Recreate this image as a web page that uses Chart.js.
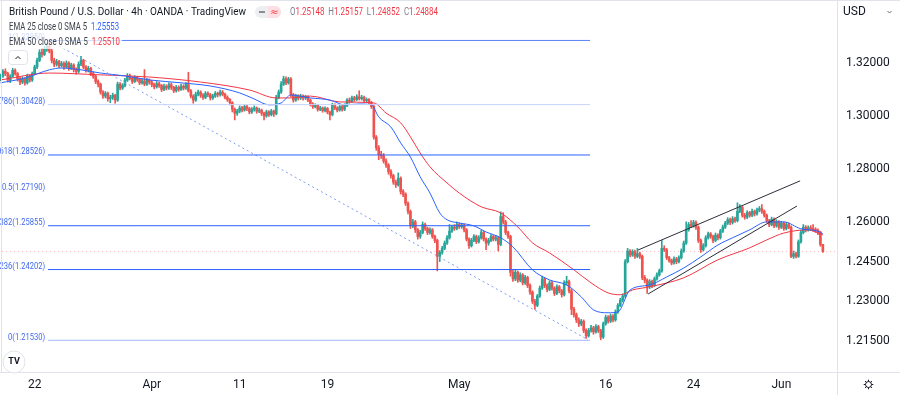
<!DOCTYPE html>
<html>
<head>
<meta charset="utf-8">
<script src="https://cdn.jsdelivr.net/npm/chart.js@4.4.1/dist/chart.umd.min.js"></script>
<style>
  html, body { margin: 0; padding: 0; background: #ffffff; overflow: hidden; }
  canvas { display: block; }
</style>
</head>
<body>
<canvas id="chart" width="900" height="395"></canvas>
<script>
// GBP/USD 4h candles (open = previous close)
const firstOpen = 1.3140;
const closes = [
  1.3150,1.3168,1.3160,1.3135,1.3150,1.3172,1.3160,1.3140,1.3128,1.3140,
  1.3125,1.3150,1.3135,1.3160,1.3185,1.3210,1.3240,1.3232,1.3252,1.3262,
  1.3245,1.3210,1.3195,1.3205,1.3190,1.3198,1.3185,1.3200,1.3180,1.3192,
  1.3175,1.3168,1.3195,1.3210,1.3185,1.3172,1.3180,1.3160,1.3150,1.3130,
  1.3120,1.3090,1.3075,1.3085,1.3065,1.3070,1.3078,1.3060,1.3120,1.3105,
  1.3115,1.3135,1.3150,1.3142,1.3130,1.3145,1.3138,1.3125,1.3132,1.3120,
  1.3135,1.3128,1.3118,1.3110,1.3122,1.3115,1.3100,1.3112,1.3105,1.3118,
  1.3108,1.3095,1.3108,1.3100,1.3112,1.3105,1.3118,1.3095,1.3075,1.3060,
  1.3082,1.3090,1.3078,1.3070,1.3085,1.3080,1.3068,1.3075,1.3085,1.3080,
  1.3090,1.3082,1.3070,1.3062,1.3050,1.3025,1.3010,1.3018,1.3030,1.3022,
  1.3035,1.3028,1.3015,1.3025,1.3030,1.3018,1.3022,1.3010,1.3000,1.3015,
  1.3005,1.3018,1.3008,1.3070,1.3090,1.3120,1.3140,1.3125,1.3140,1.3080,
  1.3060,1.3075,1.3068,1.3075,1.3068,1.3072,1.3060,1.3045,1.3035,1.3040,
  1.3025,1.3030,1.3020,1.3028,1.3015,1.3005,1.3042,1.3030,1.3022,1.3035,
  1.3025,1.3040,1.3060,1.3055,1.3068,1.3062,1.3072,1.3065,1.3070,1.3058,
  1.3062,1.3050,1.3035,1.2920,1.2880,1.2855,1.2850,1.2830,1.2815,1.2790,
  1.2775,1.2750,1.2740,1.2765,1.2715,1.2705,1.2670,1.2640,1.2585,1.2600,
  1.2570,1.2545,1.2560,1.2590,1.2575,1.2560,1.2570,1.2545,1.2530,1.2470,
  1.2485,1.2500,1.2520,1.2540,1.2565,1.2580,1.2575,1.2590,1.2582,1.2588,
  1.2570,1.2535,1.2510,1.2530,1.2545,1.2525,1.2540,1.2560,1.2535,1.2520,
  1.2530,1.2545,1.2535,1.2540,1.2515,1.2620,1.2600,1.2560,1.2545,1.2410,
  1.2385,1.2410,1.2380,1.2400,1.2370,1.2390,1.2360,1.2335,1.2300,1.2285,
  1.2320,1.2350,1.2385,1.2360,1.2345,1.2370,1.2350,1.2330,1.2355,1.2340,
  1.2325,1.2370,1.2375,1.2340,1.2270,1.2250,1.2230,1.2215,1.2225,1.2190,
  1.2170,1.2190,1.2200,1.2185,1.2205,1.2190,1.2165,1.2215,1.2240,1.2225,
  1.2245,1.2230,1.2260,1.2285,1.2305,1.2320,1.2450,1.2490,1.2475,1.2488,
  1.2470,1.2480,1.2470,1.2390,1.2380,1.2355,1.2375,1.2360,1.2385,1.2400,
  1.2415,1.2500,1.2495,1.2465,1.2455,1.2445,1.2460,1.2450,1.2465,1.2490,
  1.2520,1.2570,1.2590,1.2585,1.2598,1.2580,1.2530,1.2495,1.2510,1.2540,
  1.2555,1.2545,1.2530,1.2550,1.2540,1.2565,1.2580,1.2595,1.2608,1.2598,
  1.2612,1.2605,1.2640,1.2655,1.2625,1.2618,1.2635,1.2625,1.2640,1.2630,
  1.2645,1.2650,1.2640,1.2625,1.2605,1.2590,1.2610,1.2585,1.2600,1.2580,
  1.2595,1.2575,1.2590,1.2580,1.2470,1.2480,1.2470,1.2525,1.2560,1.2580,
  1.2570,1.2578,1.2575,1.2570,1.2568,1.2560,1.25148,1.24884
];
const highs = [
  1.3158,1.3175,1.3178,1.3165,1.3156,1.3180,1.3178,1.3164,1.3146,1.3148,
  1.3145,1.3158,1.3155,1.3166,1.3192,1.3218,1.3250,1.3255,1.3262,1.3275,
  1.3285,1.3252,1.3218,1.3214,1.3210,1.3206,1.3204,1.3208,1.3205,1.3199,
  1.3197,1.3182,1.3204,1.3225,1.3214,1.3190,1.3188,1.3184,1.3166,1.3155,
  1.3136,1.3124,1.3096,1.3092,1.3090,1.3078,1.3086,1.3082,1.3128,1.3126,
  1.3122,1.3142,1.3160,1.3158,1.3148,1.3152,1.3150,1.3142,1.3140,1.3175,
  1.3142,1.3140,1.3134,1.3124,1.3130,1.3128,1.3119,1.3120,1.3118,1.3125,
  1.3124,1.3112,1.3115,1.3114,1.3120,1.3118,1.3126,1.3165,1.3100,1.3080,
  1.3090,1.3098,1.3095,1.3084,1.3092,1.3091,1.3085,1.3082,1.3092,1.3090,
  1.3098,1.3096,1.3086,1.3076,1.3066,1.3054,1.3030,1.3025,1.3038,1.3036,
  1.3042,1.3040,1.3032,1.3032,1.3038,1.3034,1.3030,1.3026,1.3015,1.3022,
  1.3020,1.3025,1.3022,1.3078,1.3098,1.3130,1.3150,1.3148,1.3146,1.3145,
  1.3085,1.3082,1.3080,1.3082,1.3080,1.3078,1.3076,1.3064,1.3050,1.3046,
  1.3044,1.3036,1.3034,1.3034,1.3032,1.3018,1.3048,1.3046,1.3035,1.3040,
  1.3040,1.3046,1.3066,1.3068,1.3075,1.3074,1.3080,1.3095,1.3078,1.3075,
  1.3068,1.3066,1.3055,1.3040,1.2926,1.2888,1.2866,1.2858,1.2838,1.2820,
  1.2798,1.2780,1.2758,1.2785,1.2770,1.2722,1.2710,1.2676,1.2645,1.2610,
  1.2606,1.2575,1.2568,1.2600,1.2596,1.2580,1.2578,1.2575,1.2550,1.2535,
  1.2492,1.2508,1.2528,1.2548,1.2590,1.2588,1.2590,1.2600,1.2596,1.2595,
  1.2592,1.2575,1.2540,1.2538,1.2552,1.2550,1.2548,1.2568,1.2565,1.2540,
  1.2538,1.2552,1.2550,1.2548,1.2545,1.2638,1.2635,1.2606,1.2565,1.2550,
  1.2418,1.2418,1.2415,1.2408,1.2405,1.2398,1.2395,1.2366,1.2340,1.2308,
  1.2326,1.2358,1.2395,1.2390,1.2366,1.2378,1.2376,1.2355,1.2362,1.2360,
  1.2345,1.2378,1.2395,1.2380,1.2345,1.2278,1.2256,1.2238,1.2232,1.2230,
  1.2196,1.2198,1.2210,1.2206,1.2212,1.2210,1.2195,1.2222,1.2248,1.2246,
  1.2252,1.2250,1.2268,1.2292,1.2312,1.2328,1.2458,1.2500,1.2496,1.2495,
  1.2494,1.2500,1.2486,1.2475,1.2398,1.2385,1.2382,1.2380,1.2392,1.2408,
  1.2422,1.2530,1.2510,1.2500,1.2470,1.2460,1.2468,1.2466,1.2472,1.2498,
  1.2528,1.2600,1.2598,1.2605,1.2606,1.2604,1.2585,1.2535,1.2518,1.2548,
  1.2562,1.2560,1.2550,1.2558,1.2555,1.2572,1.2588,1.2602,1.2616,1.2614,
  1.2620,1.2618,1.2672,1.2665,1.2660,1.2632,1.2642,1.2640,1.2648,1.2645,
  1.2652,1.2658,1.2665,1.2645,1.2630,1.2610,1.2618,1.2615,1.2608,1.2605,
  1.2602,1.2600,1.2598,1.2596,1.2585,1.2490,1.2486,1.2532,1.2568,1.2590,
  1.2586,1.2585,1.2586,1.2590,1.2578,1.2574,1.2565,1.25157
];
const lows = [
  1.3132,1.3145,1.3152,1.3128,1.3126,1.3146,1.3154,1.3132,1.3118,1.3122,
  1.3116,1.3120,1.3128,1.3130,1.3155,1.3178,1.3205,1.3222,1.3228,1.3244,
  1.3238,1.3200,1.3186,1.3188,1.3182,1.3184,1.3176,1.3180,1.3172,1.3175,
  1.3166,1.3158,1.3162,1.3190,1.3178,1.3165,1.3166,1.3152,1.3142,1.3122,
  1.3110,1.3082,1.3066,1.3068,1.3056,1.3050,1.3062,1.3048,1.3055,1.3098,
  1.3100,1.3110,1.3130,1.3136,1.3122,1.3126,1.3130,1.3118,1.3120,1.3114,
  1.3115,1.3120,1.3110,1.3102,1.3105,1.3108,1.3092,1.3095,1.3098,1.3100,
  1.3100,1.3088,1.3090,1.3093,1.3096,1.3098,1.3100,1.3090,1.3068,1.3048,
  1.3055,1.3076,1.3070,1.3062,1.3065,1.3073,1.3060,1.3062,1.3070,1.3072,
  1.3075,1.3076,1.3064,1.3055,1.3042,1.3015,1.2985,1.3002,1.3012,1.3015,
  1.3018,1.3020,1.3008,1.3010,1.3018,1.3010,1.3012,1.3002,1.2985,1.2995,
  1.2998,1.3000,1.2998,1.3004,1.3065,1.3085,1.3115,1.3118,1.3120,1.3072,
  1.3052,1.3055,1.3060,1.3062,1.3060,1.3062,1.3054,1.3038,1.3028,1.3030,
  1.3018,1.3020,1.3014,1.3015,1.3008,1.2985,1.3000,1.3024,1.3015,1.3018,
  1.3018,1.3020,1.3035,1.3048,1.3050,1.3055,1.3058,1.3060,1.3060,1.3052,
  1.3050,1.3044,1.3028,1.2912,1.2870,1.2835,1.2840,1.2822,1.2806,1.2780,
  1.2765,1.2742,1.2730,1.2735,1.2705,1.2695,1.2662,1.2630,1.2575,1.2578,
  1.2560,1.2535,1.2538,1.2555,1.2568,1.2552,1.2554,1.2538,1.2522,1.2415,
  1.2450,1.2478,1.2495,1.2515,1.2535,1.2560,1.2568,1.2570,1.2575,1.2576,
  1.2562,1.2528,1.2500,1.2505,1.2525,1.2518,1.2520,1.2535,1.2528,1.2495,
  1.2512,1.2525,1.2528,1.2528,1.2490,1.2510,1.2592,1.2552,1.2538,1.2395,
  1.2375,1.2378,1.2372,1.2374,1.2362,1.2364,1.2352,1.2326,1.2292,1.2270,
  1.2280,1.2315,1.2345,1.2352,1.2336,1.2340,1.2342,1.2322,1.2325,1.2332,
  1.2316,1.2320,1.2362,1.2332,1.2250,1.2240,1.2220,1.2205,1.2208,1.2182,
  1.2160,1.2165,1.2184,1.2176,1.2180,1.2182,1.2155,1.2160,1.2210,1.2218,
  1.2220,1.2222,1.2225,1.2255,1.2280,1.2298,1.2315,1.2445,1.2468,1.2470,
  1.2462,1.2465,1.2462,1.2382,1.2370,1.2330,1.2348,1.2352,1.2356,1.2380,
  1.2395,1.2410,1.2488,1.2458,1.2448,1.2438,1.2440,1.2442,1.2445,1.2460,
  1.2485,1.2515,1.2565,1.2578,1.2580,1.2572,1.2522,1.2485,1.2490,1.2505,
  1.2535,1.2538,1.2522,1.2525,1.2532,1.2535,1.2560,1.2575,1.2590,1.2590,
  1.2592,1.2598,1.2600,1.2635,1.2618,1.2610,1.2612,1.2618,1.2620,1.2622,
  1.2625,1.2638,1.2632,1.2618,1.2598,1.2582,1.2585,1.2578,1.2580,1.2572,
  1.2575,1.2568,1.2570,1.2574,1.2465,1.2462,1.2464,1.2466,1.2520,1.2555,
  1.2562,1.2565,1.2568,1.2564,1.2560,1.2552,1.2508,1.24852
];

// moving averages, read at [candle index, price]
const ema25 = [
  [0,1.3125],[10,1.3143],[20,1.3174],[25,1.3181],[33,1.3174],[41,1.3162],[51,1.3151],
  [61,1.3136],[74,1.3125],[86,1.3113],[98,1.3087],[104,1.3064],[110,1.3042],[115,1.3049],
  [119,1.3079],[127,1.3068],[135,1.3060],[141,1.3042],[147,1.3045],[152,1.3042],[155,1.2996],
  [160,1.2958],[164,1.2898],[168,1.2845],[172,1.2770],[176,1.2709],[180,1.2634],[183,1.2608],
  [188,1.2596],[194,1.2585],[199,1.2562],[205,1.2540],[210,1.2506],[218,1.2419],[225,1.2381],
  [232,1.2362],[238,1.2317],[243,1.2268],[249,1.2257],[253,1.2260],[258,1.2343],[266,1.2362],
  [273,1.2392],[280,1.2426],[287,1.2468],[294,1.2513],[300,1.2540],[307,1.2570],[314,1.2600],
  [321,1.2600],[328,1.2574],[335,1.2565],[337,1.25553]
];
const ema50 = [
  [0,1.3136],[20,1.3162],[41,1.3155],[61,1.3147],[82,1.3128],[102,1.3098],[113,1.3068],
  [119,1.3068],[127,1.3075],[139,1.3053],[153,1.3049],[158,1.3011],[164,1.2974],[168,1.2921],
  [172,1.2860],[176,1.2808],[183,1.2747],[188,1.2709],[197,1.2657],[205,1.2634],[212,1.2581],
  [218,1.2521],[225,1.2483],[235,1.2419],[242,1.2370],[249,1.2332],[254,1.2325],[259,1.2343],
  [266,1.2355],[280,1.2389],[294,1.2457],[307,1.2502],[314,1.2532],[321,1.2558],[331,1.2570],
  [337,1.25510]
];

const tickIndex = [14, 62, 98, 134, 188, 248, 284, 320];
const tickLabels = ["22", "Apr", "11", "19", "May", "16", "24", "Jun"];
const priceTicks = [1.215, 1.23, 1.245, 1.26, 1.28, 1.30, 1.32];

// Fibonacci retracement drawn between the swing high and the swing low
const fibLevels = ["1", "0.786", "0.618", "0.5", "0.382", "0.236", "0"];
const fibPrices = [1.32850, 1.30428, 1.28526, 1.27190, 1.25855, 1.24202, 1.21530];
const fibColors = ["#5a82f6", "#c6d3fb", "#2962ff", null, "#2962ff", "#2962ff", "#a3b9fa"];
const fibSpan = [19.5, 241.6];
const trendLine = [[20.3, 1.3283], [240.8, 1.2155]];
const channelUpper = [[261.3, 1.2494], [327.7, 1.2755]];
const channelLower = [[265.4, 1.2328], [326.4, 1.2660]];

const UP = "#26a69a";
const DOWN = "#ef5350";

const opens = closes.map((c, i) => (i === 0 ? firstOpen : closes[i - 1]));
const candleColors = closes.map((c, i) => (c >= opens[i] ? UP : DOWN));
const lastIdx = closes.length - 1;

function seg(points) {
  return points.map(([x, y]) => ({ x, y }));
}

function lineSet(points, color, extra) {
  return Object.assign({
    type: "line",
    data: seg(points),
    borderColor: color,
    borderWidth: 1,
    pointRadius: 0,
    fill: false
  }, extra || {});
}

const fibSets = [];
fibPrices.forEach((p, k) => {
  if (!fibColors[k]) return;
  fibSets.push(lineSet([[fibSpan[0], p], [fibSpan[1], p]], fibColors[k], { order: 3 }));
});

function drawRuns(ctx, runs, x, y, width) {
  let total = 0;
  runs.forEach(([t]) => { total += ctx.measureText(t).width; });
  ctx.save();
  ctx.translate(x, y);
  ctx.scale(width / total, 1);
  let cx = 0;
  runs.forEach(([t, color]) => {
    ctx.fillStyle = color;
    ctx.fillText(t, cx, 0);
    cx += ctx.measureText(t).width;
  });
  ctx.restore();
}

function roundRect(ctx, x, y, w, h, r) {
  ctx.beginPath();
  ctx.moveTo(x + r, y);
  ctx.lineTo(x + w - r, y);
  ctx.arcTo(x + w, y, x + w, y + r, r);
  ctx.lineTo(x + w, y + h - r);
  ctx.arcTo(x + w, y + h, x + w - r, y + h, r);
  ctx.lineTo(x + r, y + h);
  ctx.arcTo(x, y + h, x, y + h - r, r);
  ctx.lineTo(x, y + r);
  ctx.arcTo(x, y, x + r, y, r);
  ctx.closePath();
}

const fibLabelPlugin = {
  id: "fibLabelPlugin",
  afterDatasetsDraw(chart) {
    const { ctx, scales } = chart;
    const xLeft = scales.x.getPixelForValue(fibSpan[0]);
    ctx.save();
    ctx.font = "9px Roboto";
    ctx.textAlign = "right";
    ctx.textBaseline = "middle";
    ctx.fillStyle = "#4169ec";
    fibPrices.forEach((p, k) => {
      const y = scales.y.getPixelForValue(p);
      ctx.save();
      ctx.translate(xLeft - 3, y - 3);
      ctx.scale(0.84, 1);
      ctx.fillText(`${fibLevels[k]}(${p.toFixed(5)})`, 0, 0);
      ctx.restore();
    });
    ctx.restore();
  }
};

const overlayPlugin = {
  id: "overlayPlugin",
  afterDraw(chart) {
    const { ctx, chartArea } = chart;
    ctx.save();

    // frame lines
    ctx.fillStyle = "#e0e3eb";
    ctx.fillRect(chartArea.right, 0, 1, 395);
    ctx.fillRect(0, chartArea.bottom, 900, 1);
    ctx.fillRect(0, 0, 900, 1);
    ctx.fillRect(1, 0, 1, chartArea.bottom);

    // legend background
    ctx.fillStyle = "rgba(255,255,255,0.75)";
    ctx.fillRect(6, 20, 116, 29);

    ctx.textBaseline = "middle";
    ctx.font = "11px Roboto";
    drawRuns(ctx, [["British Pound / U.S. Dollar · 4h · OANDA · TradingView", "#131722"]], 9, 12, 237);

    // market status pill
    ctx.fillStyle = "#eceef2";
    roundRect(ctx, 255, 6, 26, 12, 6);
    ctx.fill();
    ctx.fillStyle = "#fcdfe2";
    ctx.beginPath();
    ctx.rect(268, 6, 7, 12);
    ctx.fill();
    roundRect(ctx, 268, 6, 13, 12, 6);
    ctx.fill();
    ctx.fillStyle = "#8a8d96";
    ctx.fillRect(259, 11, 6, 2);
    ctx.fillStyle = "#f23645";
    ctx.font = "10px DejaVu Sans";
    ctx.textAlign = "center";
    ctx.fillText("≈", 274.5, 12);
    ctx.textAlign = "left";

    ctx.font = "10.5px Roboto";
    const o = opens[lastIdx].toFixed(5), h = highs[lastIdx].toFixed(5);
    const l = lows[lastIdx].toFixed(5), c = closes[lastIdx].toFixed(5);
    drawRuns(ctx, [
      ["O", "#7b7f8b"], [o, "#f23645"], ["  H", "#7b7f8b"], [h, "#f23645"],
      ["  L", "#7b7f8b"], [l, "#f23645"], ["  C", "#7b7f8b"], [c, "#f23645"]
    ], 290, 12.5, 148);

    ctx.font = "10.5px Roboto";
    drawRuns(ctx, [["EMA 25 close 0 SMA 5", "#3b3e48"], ["  " + ema25[ema25.length - 1][1].toFixed(5), "#2962ff"]], 9, 27, 110);
    drawRuns(ctx, [["EMA 50 close 0 SMA 5", "#3b3e48"], ["  " + ema50[ema50.length - 1][1].toFixed(5), "#f23645"]], 9, 42, 111);

    // collapse button
    ctx.fillStyle = "#ffffff";
    ctx.strokeStyle = "#e0e3eb";
    ctx.lineWidth = 1;
    roundRect(ctx, 8.5, 50.5, 19, 14, 3);
    ctx.fill();
    ctx.stroke();
    ctx.strokeStyle = "#131722";
    ctx.beginPath();
    ctx.moveTo(15.5, 59);
    ctx.lineTo(18, 56.5);
    ctx.lineTo(20.5, 59);
    ctx.stroke();

    // TradingView logo
    ctx.fillStyle = "#ffffff";
    ctx.strokeStyle = "#e0e3eb";
    ctx.beginPath();
    ctx.arc(14, 362, 11, 0, Math.PI * 2);
    ctx.fill();
    ctx.stroke();
    ctx.fillStyle = "#131722";
    ctx.font = "bold 9px Roboto";
    ctx.textAlign = "center";
    ctx.fillText("TV", 14, 362);

    // price scale header
    ctx.textAlign = "left";
    ctx.font = "12px Roboto";
    ctx.fillStyle = "#131722";
    ctx.fillText("USD", 843, 12);
    ctx.strokeStyle = "#6a6d78";
    ctx.beginPath();
    ctx.moveTo(887.5, 11);
    ctx.lineTo(889.5, 13);
    ctx.lineTo(891.5, 11);
    ctx.stroke();

    // settings gear
    ctx.strokeStyle = "#131722";
    ctx.beginPath();
    ctx.arc(868.5, 384.5, 3, 0, Math.PI * 2);
    ctx.stroke();
    for (let k = 0; k < 8; k++) {
      const a = (k * Math.PI) / 4;
      ctx.beginPath();
      ctx.moveTo(868.5 + 3 * Math.cos(a), 384.5 + 3 * Math.sin(a));
      ctx.lineTo(868.5 + 4.8 * Math.cos(a), 384.5 + 4.8 * Math.sin(a));
      ctx.stroke();
    }
    ctx.restore();
  }
};

new Chart(document.getElementById("chart"), {
  type: "bar",
  data: {
    datasets: [
      {
        type: "bar",
        data: closes.map((c, i) => ({ x: i, y: [lows[i], highs[i]] })),
        backgroundColor: candleColors,
        barThickness: 1,
        grouped: false,
        order: 10
      },
      {
        type: "bar",
        data: closes.map((c, i) => ({ x: i, y: [opens[i], c] })),
        backgroundColor: candleColors,
        barThickness: 2,
        minBarLength: 1,
        grouped: false,
        order: 9
      },
      lineSet(ema25, "#2962ff", { order: 5, cubicInterpolationMode: "monotone" }),
      lineSet(ema50, "#f23645", { order: 6, cubicInterpolationMode: "monotone" }),
      lineSet(trendLine, "#7d9cf6", { order: 4, borderDash: [2, 3] }),
      ...fibSets,
      lineSet(channelUpper, "#2a2e39", { order: 2 }),
      lineSet(channelLower, "#2a2e39", { order: 2 }),
      lineSet([[-1, closes[lastIdx]], [344, closes[lastIdx]]], "rgba(242,54,69,0.35)", { order: 11, borderDash: [1, 3] })
    ]
  },
  options: {
    responsive: false,
    animation: false,
    devicePixelRatio: 1,
    layout: { padding: 0 },
    plugins: {
      legend: { display: false },
      tooltip: { enabled: false }
    },
    scales: {
      x: {
        type: "linear",
        offset: false,
        min: -0.2,
        max: 342.8,
        grid: { display: false, drawTicks: false, offset: false },
        border: { display: false },
        afterBuildTicks(scale) {
          scale.ticks = tickIndex.map((v) => ({ value: v }));
        },
        afterFit(scale) {
          scale.height = 23;
          scale.paddingLeft = 0;
          scale.paddingRight = 0;
        },
        ticks: {
          autoSkip: false,
          maxRotation: 0,
          padding: 6,
          color: "#131722",
          font: { family: "Roboto", size: 12 },
          callback(value) {
            const k = tickIndex.indexOf(value);
            return k >= 0 ? tickLabels[k] : "";
          }
        }
      },
      y: {
        position: "right",
        min: 1.20334,
        max: 1.34377,
        grid: { display: false, drawTicks: false },
        border: { display: false },
        afterBuildTicks(scale) {
          scale.ticks = priceTicks.map((v) => ({ value: v }));
        },
        afterFit(scale) {
          scale.width = 63;
          scale.paddingTop = 0;
          scale.paddingBottom = 0;
        },
        ticks: {
          padding: 9,
          color: "#131722",
          font: { family: "Roboto", size: 12 },
          callback(value) {
            return value.toFixed(5);
          }
        }
      }
    }
  },
  plugins: [fibLabelPlugin, overlayPlugin]
});
</script>
</body>
</html>
